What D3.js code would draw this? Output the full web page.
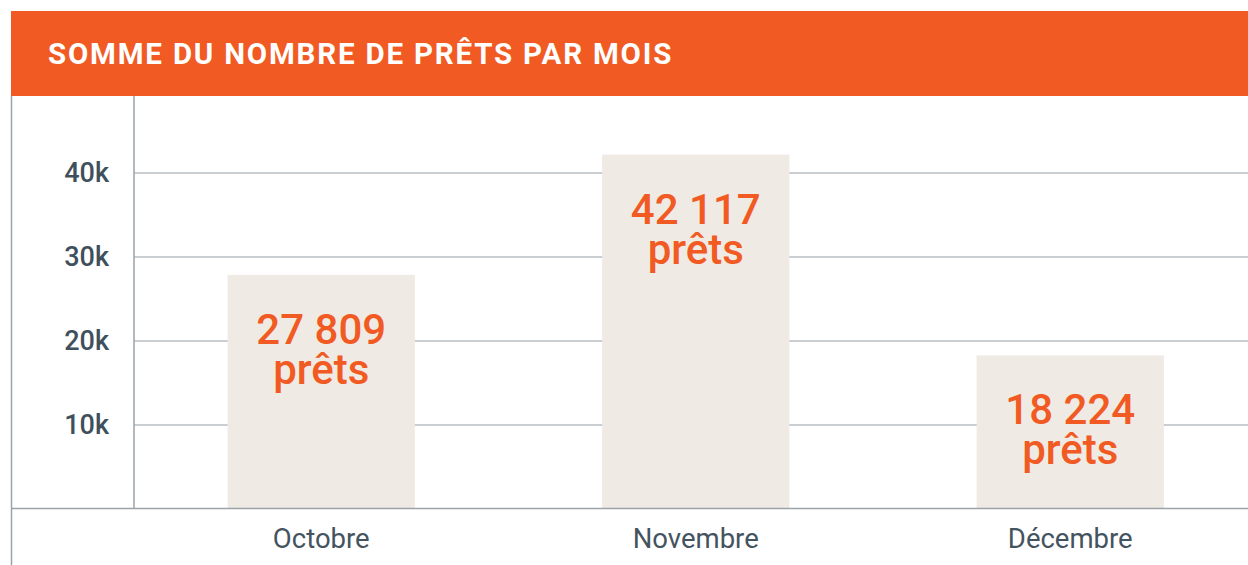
<!DOCTYPE html>
<html>
<head>
<meta charset="utf-8">
<script src="https://cdn.jsdelivr.net/npm/d3@7"></script>
<style>
  body { margin: 0; background: #fff; }
  svg { display: block; font-family: Roboto, "Noto Sans", sans-serif; }
</style>
</head>
<body>
<script>
// data
const months = ["Octobre", "Novembre", "Décembre"];
const loans = [27809, 42117, 18224];
const yTicks = [10000, 20000, 30000, 40000];

const W = 1248, H = 565;
const orange = "#f15a22";

const svg = d3.select("body").append("svg")
    .attr("width", W)
    .attr("height", H);

// header band
svg.append("rect")
    .attr("x", 11).attr("y", 11)
    .attr("width", W - 11).attr("height", 85)
    .attr("fill", orange);

svg.append("text")
    .attr("x", 48).attr("y", 64)
    .attr("fill", "#fff")
    .attr("font-size", "29.5px")
    .attr("font-weight", 700)
    .attr("letter-spacing", "1.8px")
    .text("SOMME DU NOMBRE DE PRÊTS PAR MOIS");

// left frame line
svg.append("line")
    .attr("x1", 11.5).attr("x2", 11.5)
    .attr("y1", 96).attr("y2", H)
    .attr("stroke", "#9aa3a9").attr("stroke-width", 1.5);

const left = 134, base = 508.5;

const x = d3.scaleBand()
    .domain(months)
    .range([left, left + 3 * 374.5])
    .paddingInner(0.5)
    .paddingOuter(0.25);

const y = d3.scaleLinear()
    .domain([0, 40000])
    .range([base, 172.5]);

// gridlines + y labels
const yAxis = svg.append("g")
    .attr("transform", "translate(" + left + ",0)")
    .call(d3.axisLeft(y)
        .tickValues(yTicks)
        .tickSize(-(W - left))
        .tickPadding(25)
        .tickFormat(d => (d / 1000) + "k"));

yAxis.select(".domain").remove();
yAxis.selectAll(".tick line")
    .attr("stroke", "#c9ced3")
    .attr("stroke-width", 2);
yAxis.selectAll(".tick text")
    .attr("fill", "#3f505c")
    .attr("font-size", "27px")
    .attr("font-weight", 500)
    .attr("font-family", "Roboto, sans-serif");

// bars
svg.selectAll(".bar")
    .data(months)
    .enter().append("rect")
    .attr("class", "bar")
    .attr("x", d => x(d))
    .attr("y", (d, i) => y(loans[i]))
    .attr("width", x.bandwidth())
    .attr("height", (d, i) => base - y(loans[i]))
    .attr("fill", "#efeae3");

// value labels
const fmt = v => d3.format(",")(v).replace(/,/g, " ");
const lbl = svg.selectAll(".lbl")
    .data(months)
    .enter().append("text")
    .attr("class", "lbl")
    .attr("text-anchor", "middle")
    .attr("fill", orange)
    .attr("font-size", "42px")
    .attr("font-weight", 500);

lbl.append("tspan")
    .attr("x", d => x(d) + x.bandwidth() / 2)
    .attr("y", (d, i) => y(loans[i]) + 69)
    .text((d, i) => fmt(loans[i]));

lbl.append("tspan")
    .attr("x", d => x(d) + x.bandwidth() / 2)
    .attr("y", (d, i) => y(loans[i]) + 109)
    .text("prêts");

// y axis line
svg.append("line")
    .attr("x1", left).attr("x2", left)
    .attr("y1", 96).attr("y2", base)
    .attr("stroke", "#9aa3a9").attr("stroke-width", 1.5);

// x axis
const xAxis = svg.append("g")
    .attr("transform", "translate(0," + base + ")")
    .call(d3.axisBottom(x).tickSize(0).tickPadding(20));

xAxis.select(".domain")
    .attr("d", "M11,0H" + W)
    .attr("stroke", "#9aa3a9")
    .attr("stroke-width", 1.5);
xAxis.selectAll(".tick text")
    .attr("fill", "#44545f")
    .attr("font-size", "27.5px")
    .attr("font-family", "Roboto, sans-serif");
</script>
</body>
</html>
